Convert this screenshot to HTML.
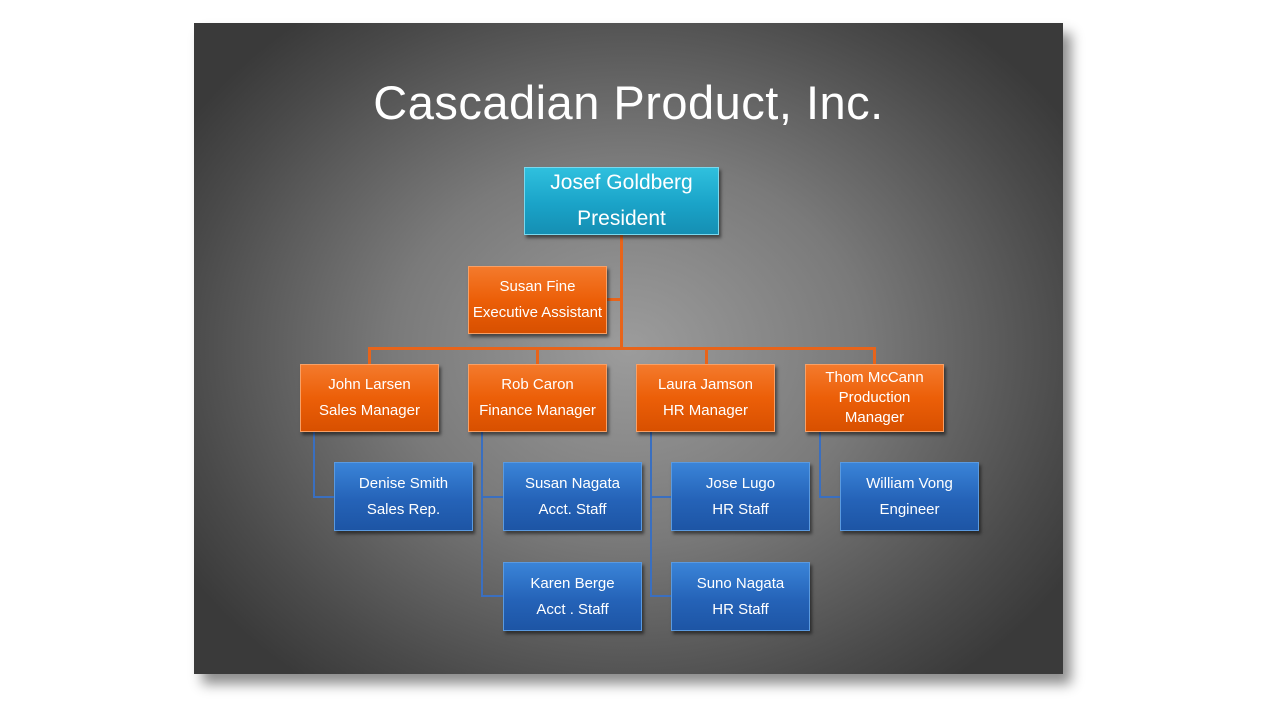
<!DOCTYPE html>
<html><head><meta charset="utf-8"><style>
*{margin:0;padding:0;box-sizing:border-box}
body{width:1280px;height:720px;background:#fff;position:relative;overflow:hidden;font-family:"Liberation Sans",sans-serif}
.slide{position:absolute;left:194px;top:23px;width:869px;height:651px;background:radial-gradient(ellipse 60% 65% at 50% 50%,#9c9c9c 0%,#7a7a7a 45%,#4a4a4a 85%,#3a3a3a 100%);box-shadow:8px 10px 12px rgba(0,0,0,0.45)}
.title{position:absolute;left:194px;width:869px;top:75px;text-align:center;color:#fff;font-size:47px;letter-spacing:0.5px}
.b{position:absolute;color:#fff;text-align:center;display:flex;flex-direction:column;justify-content:center;font-size:15px;line-height:26px;box-shadow:2px 3px 3px rgba(0,0,0,0.5)}
.o{background:linear-gradient(#f47a2c,#ec5f08 50%,#d85000);border:1px solid #f8a066;width:139px;height:68px}
.u{background:linear-gradient(#3a84d8,#2563b8 55%,#1d55a5);border:1px solid #5a9ae0;width:139px;height:69px}
.c{background:linear-gradient(#2fc0de,#1aa3c8 55%,#158fb3);border:1px solid #7ad8ee;font-size:21px;line-height:36px}
.l{position:absolute}
.lo{background:#e8641a}.lb{background:#3a6fc0}
</style></head><body>
<div class="slide"></div>
<div class="title">Cascadian Product, Inc.</div>
<div class="l lo" style="left:620px;top:235px;width:3px;height:115px"></div>
<div class="l lo" style="left:606px;top:298px;width:16px;height:3px"></div>
<div class="l lo" style="left:368px;top:347px;width:508px;height:3px"></div>
<div class="l lo" style="left:368px;top:347px;width:3px;height:18px"></div>
<div class="l lo" style="left:536px;top:347px;width:3px;height:18px"></div>
<div class="l lo" style="left:705px;top:347px;width:3px;height:18px"></div>
<div class="l lo" style="left:873px;top:347px;width:3px;height:18px"></div>
<div class="l lb" style="left:313px;top:432px;width:2px;height:66px"></div>
<div class="l lb" style="left:313px;top:496px;width:22px;height:2px"></div>
<div class="l lb" style="left:481px;top:432px;width:2px;height:165px"></div>
<div class="l lb" style="left:481px;top:496px;width:22px;height:2px"></div>
<div class="l lb" style="left:481px;top:595px;width:22px;height:2px"></div>
<div class="l lb" style="left:650px;top:432px;width:2px;height:165px"></div>
<div class="l lb" style="left:650px;top:496px;width:22px;height:2px"></div>
<div class="l lb" style="left:650px;top:595px;width:22px;height:2px"></div>
<div class="l lb" style="left:819px;top:432px;width:2px;height:66px"></div>
<div class="l lb" style="left:819px;top:496px;width:22px;height:2px"></div>

<div class="b c" style="left:524px;top:167px;width:195px;height:68px">Josef Goldberg<br>President</div>
<div class="b o" style="left:468px;top:266px">Susan Fine<br>Executive Assistant</div>
<div class="b o" style="left:300px;top:364px">John Larsen<br>Sales Manager</div>
<div class="b o" style="left:468px;top:364px">Rob Caron<br>Finance Manager</div>
<div class="b o" style="left:636px;top:364px">Laura Jamson<br>HR Manager</div>
<div class="b o" style="left:805px;top:364px;line-height:20px">Thom McCann<br>Production<br>Manager</div>
<div class="b u" style="left:334px;top:462px">Denise Smith<br>Sales Rep.</div>
<div class="b u" style="left:503px;top:462px">Susan Nagata<br>Acct. Staff</div>
<div class="b u" style="left:671px;top:462px">Jose Lugo<br>HR Staff</div>
<div class="b u" style="left:840px;top:462px">William Vong<br>Engineer</div>
<div class="b u" style="left:503px;top:562px">Karen Berge<br>Acct . Staff</div>
<div class="b u" style="left:671px;top:562px">Suno Nagata<br>HR Staff</div>
</body></html>
